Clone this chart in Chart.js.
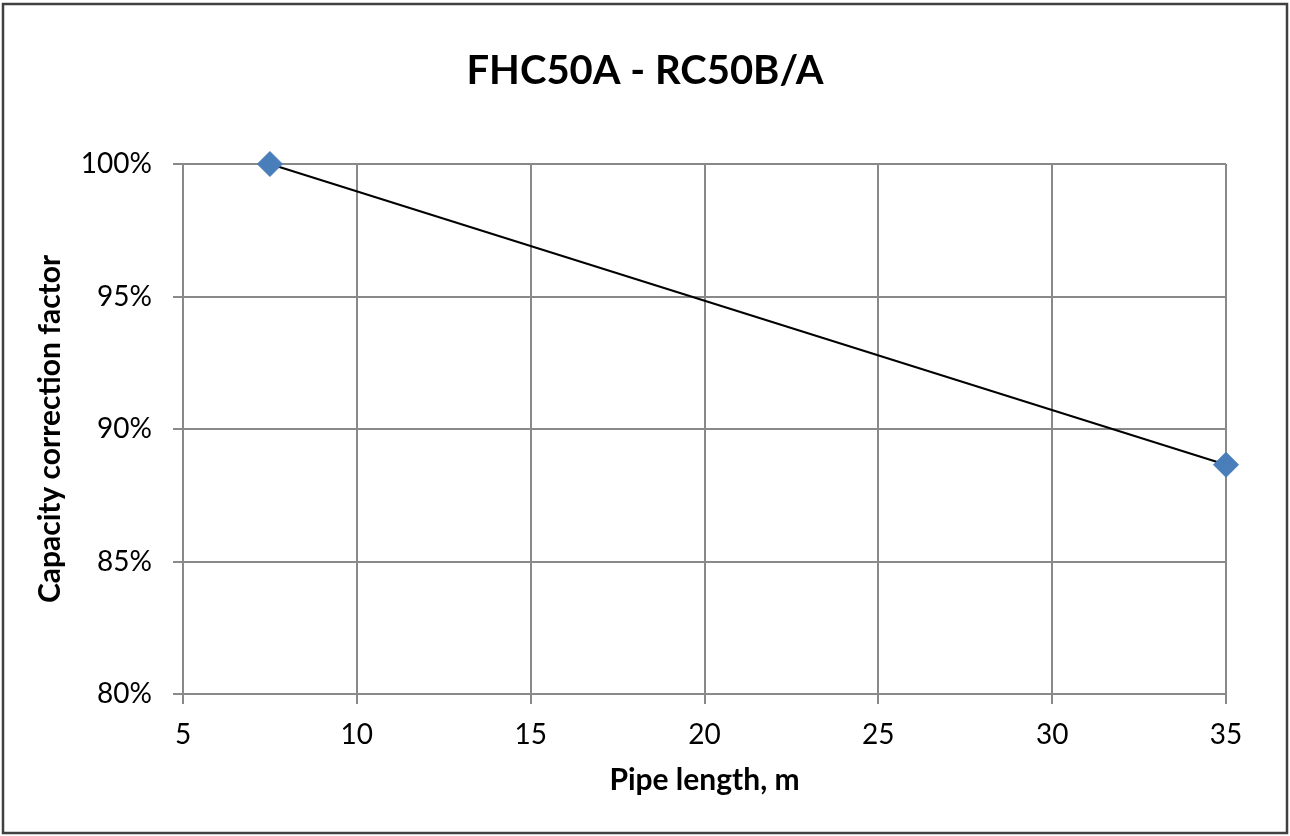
<!DOCTYPE html>
<html>
<head>
<meta charset="utf-8">
<script src="https://cdn.jsdelivr.net/npm/chart.js@4"></script>
<style>
  html, body { margin: 0; padding: 0; background: #fff; }
  #wrap { width: 1290px; height: 836px; position: relative; }
</style>
</head>
<body>
<div id="wrap"><canvas id="c" width="1290" height="836"></canvas></div>
<script>
const chartTitle = 'FHC50A - RC50B/A';
const xAxisTitle = 'Pipe length, m';
const yAxisTitle = 'Capacity correction factor';
const pipeLength = [7.5, 35];
const capacityFactor = [100, 88.65];
const xTicks = [5, 10, 15, 20, 25, 30, 35];
const yTicks = [80, 85, 90, 95, 100];

const FONT = 'Lato, "Open Sans", "Noto Sans", sans-serif';
const GRID = '#898989';

const frame = {
  id: 'frame',
  afterDraw(chart) {
    const ctx = chart.ctx;
    ctx.save();
    ctx.strokeStyle = '#404040';
    ctx.lineWidth = 2.5;
    ctx.strokeRect(3, 4, 1284, 829);
    ctx.restore();
  }
};

new Chart(document.getElementById('c'), {
  type: 'scatter',
  data: {
    datasets: [{
      data: pipeLength.map((x, i) => ({ x: x, y: capacityFactor[i] })),
      showLine: true,
      clip: false,
      borderColor: '#000000',
      borderWidth: 2,
      pointStyle: 'rectRot',
      pointRadius: 12.5,
      pointHoverRadius: 12.5,
      pointBackgroundColor: '#4A7EBB',
      pointBorderColor: '#4A7EBB',
      pointBorderWidth: 1
    }]
  },
  options: {
    responsive: false,
    animation: false,
    devicePixelRatio: 1,
    layout: { padding: { left: 0, right: 0, top: 0, bottom: 0 } },
    plugins: {
      legend: { display: false },
      tooltip: { enabled: false },
      title: {
        display: true,
        text: chartTitle,
        color: '#000',
        font: { family: FONT, size: 40, weight: 'bold', lineHeight: 1.2 },
        padding: { top: 47, bottom: 69 }
      }
    },
    scales: {
      x: {
        type: 'linear',
        min: xTicks[0],
        max: xTicks[xTicks.length - 1],
        afterBuildTicks: s => { s.ticks = xTicks.map(v => ({ value: v })); },
        afterFit: s => { s.height = 142; },
        grid: { color: GRID, lineWidth: 2, tickLength: 10, drawTicks: true },
        border: { display: true, color: GRID, width: 2 },
        ticks: {
          color: '#000',
          padding: 14,
          maxRotation: 0,
          font: { family: FONT, size: 28 },
          callback: v => String(v)
        },
        title: {
          display: true,
          text: xAxisTitle,
          color: '#000',
          font: { family: FONT, size: 30, weight: 'bold', lineHeight: 1.2 },
          padding: { top: 0, bottom: 38 }
        }
      },
      y: {
        type: 'linear',
        min: yTicks[0],
        max: yTicks[yTicks.length - 1],
        afterBuildTicks: s => { s.ticks = yTicks.map(v => ({ value: v })); },
        afterFit: s => { s.width = 183; },
        grid: { color: GRID, lineWidth: 2, tickLength: 10, drawTicks: true },
        border: { display: true, color: GRID, width: 2 },
        ticks: {
          color: '#000',
          padding: 21,
          font: { family: FONT, size: 28 },
          callback: v => v + '%'
        },
        title: {
          display: true,
          text: yAxisTitle,
          color: '#000',
          font: { family: FONT, size: 30, weight: 'bold', lineHeight: 1.2 },
          padding: { top: 32, bottom: 0 }
        }
      },
      yRightSpace: {
        type: 'linear',
        position: 'right',
        display: true,
        afterFit: s => { s.width = 64; },
        grid: { display: false, drawTicks: false },
        border: { display: false },
        ticks: { display: false },
        title: { display: false }
      }
    }
  },
  plugins: [frame]
});
</script>
</body>
</html>
